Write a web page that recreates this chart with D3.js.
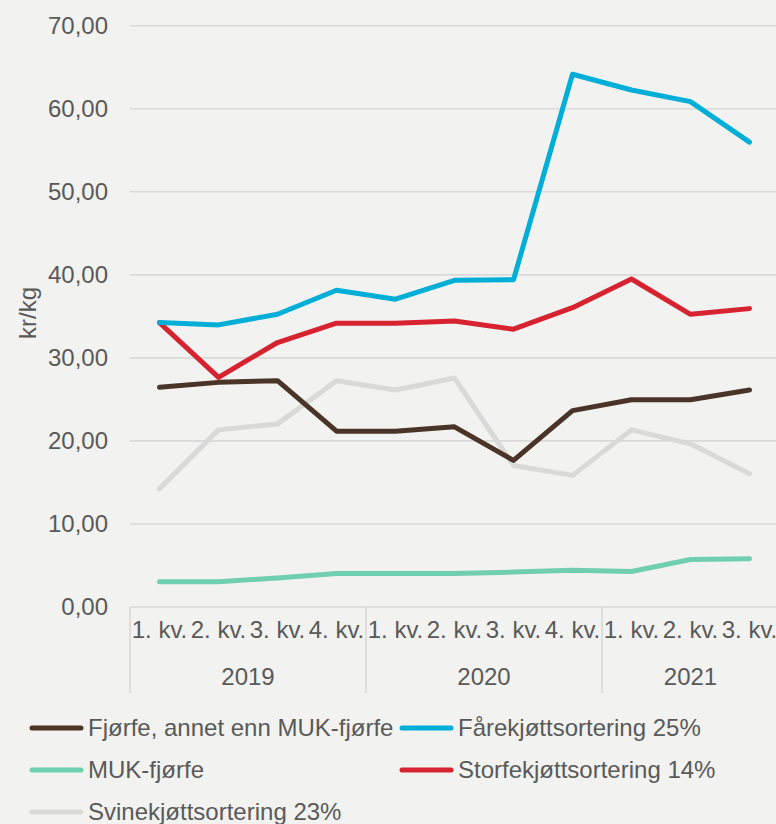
<!DOCTYPE html>
<html><head><meta charset="utf-8">
<script src="https://cdn.jsdelivr.net/npm/d3@7"></script>
<style>
html,body{margin:0;padding:0;background:#f2f2f0;overflow:hidden}
svg{display:block;font-family:"Liberation Sans",Arial,sans-serif}
</style></head>
<body><svg id="c" width="776" height="824"></svg>
<script>
const quarters = ["1. kv.","2. kv.","3. kv.","4. kv.","1. kv.","2. kv.","3. kv.","4. kv.","1. kv.","2. kv.","3. kv."];
const years = [{label:"2019", start:0, end:4},{label:"2020", start:4, end:8},{label:"2021", start:8, end:11}];
const yTicks = [0,10,20,30,40,50,60,70];

const fjorfe  = [26.45,27.05,27.25,21.17,21.17,21.7,17.65,23.65,24.95,24.95,26.13];
const farekjott = [34.25,33.97,35.25,38.14,37.06,39.34,39.4,64.15,62.26,60.86,55.98];
const muk     = [3.04,3.04,3.5,4.04,4.04,4.04,4.2,4.44,4.28,5.72,5.8];
const storfe  = [34.25,27.65,31.85,34.17,34.17,34.45,33.45,36.05,39.5,35.25,35.93];
const svine   = [14.25,21.33,22.05,27.25,26.13,27.57,17.05,15.85,21.33,19.65,16.05];

const seriesNames = ["Fjørfe, annet enn MUK-fjørfe","Fårekjøttsortering 25%","MUK-fjørfe","Storfekjøttsortering 14%","Svinekjøttsortering 23%"];
const seriesColors = ["#4a3427","#00aed7","#6fcfb0","#d6232f","#d9d9d5"];
const seriesData = [fjorfe, farekjott, muk, storfe, svine];
const drawOrder = [4,2,0,3,1];

const svg = d3.select("#c");
const textColor = "#595959";
const x = d3.scaleBand().domain(d3.range(11)).range([130, 779]).padding(0);
const y = d3.scaleLinear().domain([0,70]).range([607, 25.7]);
const bw = x.bandwidth();
const cx = i => x(i) + bw/2;
const edge = i => i < 11 ? x(i) : x(10) + bw;

// gridlines
svg.append("g").selectAll("line").data(yTicks.filter(d=>d>0)).join("line")
  .attr("x1",130).attr("x2",776).attr("y1",d=>y(d)).attr("y2",d=>y(d))
  .attr("stroke","#d9d9d9").attr("stroke-width",1.6);

// y axis labels
const yAxis = d3.axisLeft(y).tickValues(yTicks).tickSize(0).tickPadding(0)
  .tickFormat(d => d3.format(".2f")(d).replace(".", ","));
const yg = svg.append("g").attr("transform","translate(108,0)").call(yAxis);
yg.select(".domain").remove();
yg.selectAll("text").attr("fill",textColor).attr("font-size",24).attr("font-family","Liberation Sans, Arial, sans-serif");

// y title
svg.append("text").attr("transform","translate(36,313) rotate(-90)")
  .attr("text-anchor","middle").attr("fill",textColor).attr("font-size",24).text("kr/kg");

// x axis line
svg.append("line").attr("x1",130).attr("x2",776).attr("y1",y(0)).attr("y2",y(0))
  .attr("stroke","#d9d9d9").attr("stroke-width",1.6);

// year separators
svg.append("g").selectAll("line").data([0,4,8,11]).join("line")
  .attr("x1",d=>edge(d)).attr("x2",d=>edge(d)).attr("y1",y(0)).attr("y2",693)
  .attr("stroke","#d9d9d9").attr("stroke-width",1.6);

// quarter labels via axis
const xAxis = d3.axisBottom(x).tickValues(d3.range(11)).tickSize(0).tickPadding(0)
  .tickFormat(i => quarters[i]);
const xg = svg.append("g").attr("transform","translate(0,621)").call(xAxis);
xg.select(".domain").remove();
xg.selectAll("text").attr("fill",textColor).attr("font-size",24).attr("font-family","Liberation Sans, Arial, sans-serif").attr("dy","0.71em");

// year labels
svg.append("g").selectAll("text").data(years).join("text")
  .attr("x",d=>(edge(d.start)+edge(d.end))/2)
  .attr("y",677).attr("dy","0.35em").attr("text-anchor","middle")
  .attr("fill",textColor).attr("font-size",24).text(d=>d.label);

// lines
const line = d3.line().x((d,i)=>cx(i)).y(d=>y(d));
svg.append("g").selectAll("path").data(drawOrder).join("path")
  .attr("d", k => line(seriesData[k]))
  .attr("fill","none").attr("stroke",k=>seriesColors[k]).attr("stroke-width",5)
  .attr("stroke-linejoin","round").attr("stroke-linecap","round");

// legend
const legPos = [[30,728],[400,728],[30,770],[400,770],[30,812]];
const lg = svg.append("g").selectAll("g").data(seriesNames).join("g")
  .attr("transform",(d,i)=>`translate(${legPos[i][0]},${legPos[i][1]})`);
lg.append("line").attr("x1",2).attr("x2",51).attr("y1",0).attr("y2",0)
  .attr("stroke",(d,i)=>seriesColors[i]).attr("stroke-width",5).attr("stroke-linecap","round");
lg.append("text").attr("x",58).attr("y",0).attr("dy","0.35em")
  .attr("fill",textColor).attr("font-size",24).text(d=>d);
</script></body></html>
